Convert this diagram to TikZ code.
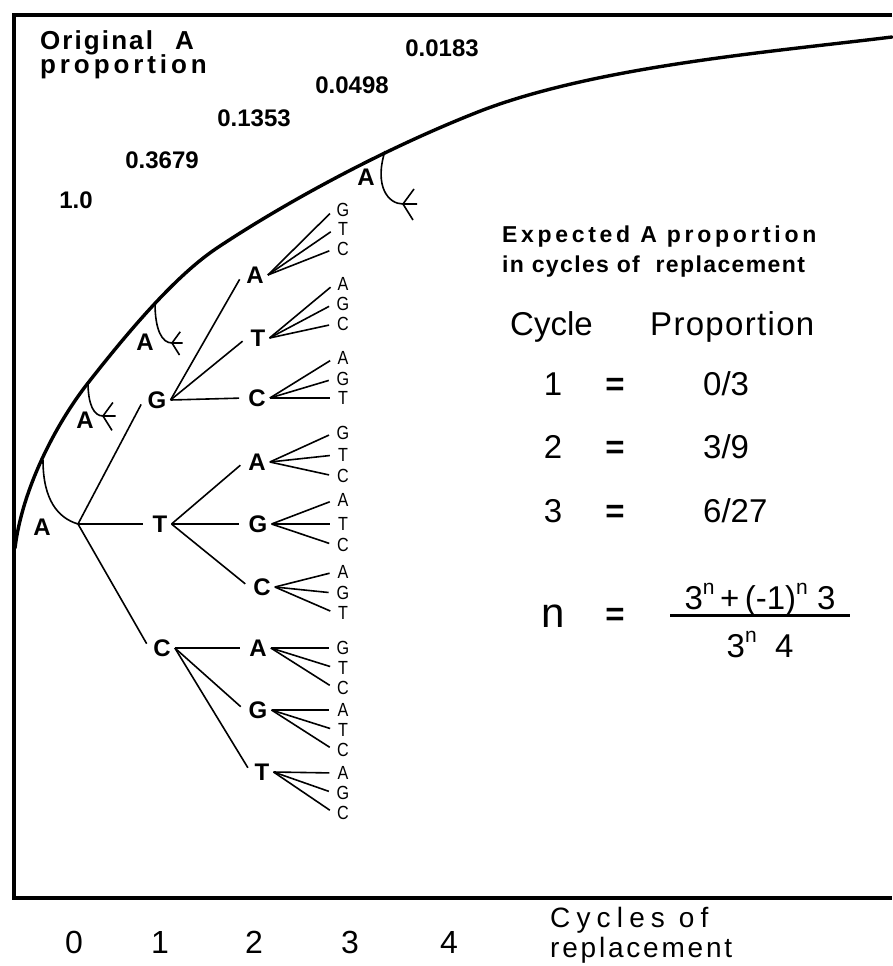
\documentclass[tikz,border=0pt]{standalone}
\usepackage{fontspec}
\setmainfont{Liberation Sans}
\newfontfamily\narrowfont[FakeStretch=0.85]{Liberation Sans}
\newcommand\trk[1]{\addfontfeatures{LetterSpace=#1}}
\newcommand\supn{\raisebox{0.45em}{\fontsize{21}{21}\selectfont n}}
\tikzset{
  frame/.style={line width=4pt},
  growth/.style={line width=3.4pt,line cap=round},
  branch/.style={line width=1.6pt,shorten >=5pt},
  hook/.style={line width=1.6pt},
  nuc/.style={font=\fontsize{24}{24}\selectfont\bfseries,inner xsep=4pt,inner ysep=0pt},
  leaf/.style={font=\narrowfont\fontsize{19}{19}\selectfont,inner xsep=3pt,inner ysep=0pt},
  val/.style={font=\fontsize{24}{24}\selectfont\bfseries,inner sep=0pt},
  tbl/.style={font=\fontsize{33}{33}\selectfont,inner sep=0pt,anchor=base},
  crowfoot/.pic={\draw[hook] (0,0) -- (11,-15) (0,0) -- (14,0) (0,0) -- (10,16);}
}

\begin{document}
\begin{tikzpicture}[x=1pt,y=-1pt]
\useasboundingbox (0,0) rectangle (892,966);
\fill[white] (0,0) rectangle (892,966);
\draw[frame] (892,15) -- (14,15) -- (14,898) -- (892,898);
\draw[growth] (15,548) .. controls (22,490) and (55,425) .. (88,383)
  .. controls (128,332) and (175,276) .. (217,248)
  .. controls (280,206) and (380,150) .. (483,110)
  .. controls (600,66) and (770,52) .. (892,37);

% proportions left along the curve
\node[anchor=base west,inner sep=0pt,font=\fontsize{26}{26}\selectfont\bfseries\trk{8}] (orig1) at (40,50) {Original\hspace{22pt}A};
\node[anchor=base west,inner sep=0pt,font=\fontsize{26}{26}\selectfont\bfseries\trk{15}] (orig2) at (40,74) {proportion};
\foreach \v/\x/\y in {1.0/76/200, 0.3679/162/160, 0.1353/254/118, 0.0498/352/85, 0.0183/442/48}
  \node[val] (v\x) at (\x,\y) {\v};

% replacement hooks on the curve
\coordinate (r0) at (78,524);
\draw[hook] (43,460) .. controls (43,500) and (58,518) .. (r0);
\draw[hook] (88,382) .. controls (88,405) and (94,416) .. (103,416) pic[scale=0.9] {crowfoot};
\draw[hook] (155,303) .. controls (155,330) and (162,343) .. (172,343) pic[scale=0.75] {crowfoot};
\draw[hook] (385,151) .. controls (374,186) and (388,204) .. (403,204) pic {crowfoot};
\node[nuc] (a0) at (42,527) {A};
\node[nuc] (a1) at (85,420) {A};
\node[nuc] (a2) at (145,342) {A};
\node[nuc] (a3) at (366,177) {A};

% tree of replacements
\foreach \n/\x/\y in {G/157/400, T/160/524, C/162/648}{
  \node[nuc] (\n) at (\x,\y) {\n};
  \draw[branch] (r0) -- (\n.west);
}
\foreach \p/\c/\x/\y in {G/A/255/275, G/T/258/338, G/C/257/398, T/A/257/462, T/G/258/524,
  T/C/262/587, C/A/258/648, C/G/258/710, C/T/262/772}{
  \node[nuc] (\p\c) at (\x,\y) {\c};
  \draw[branch] (\p.east) -- (\p\c.west);
}
\foreach \p/\l/\y in {GA/G/210, GA/T/229, GA/C/249, GT/A/284, GT/G/304, GT/C/324,
  GC/A/358, GC/G/379, GC/T/398, TA/G/433, TA/T/455, TA/C/476, TG/A/500, TG/T/524, TG/C/545,
  TC/A/572, TC/G/593, TC/T/613, CA/G/648, CA/T/668, CA/C/688, CG/A/710, CG/T/730, CG/C/750,
  CT/A/773, CT/G/793, CT/C/813}{
  \node[leaf] (\p\l) at (343,\y) {\l};
  \draw[branch] (\p.east) -- (\p\l.west);
}

% expected proportions
\node[anchor=base west,inner sep=0pt,font=\fontsize{23}{23}\selectfont\bfseries\trk{16}] (exp1) at (502,242) {Expected A proportion};
\node[anchor=base west,inner sep=0pt,font=\fontsize{23}{23}\selectfont\bfseries\trk{6}] (exp2) at (502,272) {in cycles of\hspace{8pt} replacement};
\node[tbl,anchor=base west] (hcyc) at (510,335) {Cycle};
\node[tbl,anchor=base west,font=\fontsize{33}{33}\selectfont\trk{4}] (hprop) at (650,335) {Proportion};
\foreach \c/\p/\y in {1/{0/3}/395, 2/{3/9}/458, 3/{6/27}/522}{
  \node[tbl] (c\c) at (553,\y) {\c};
  \node[tbl] (eq\c) at (615,\y) {\textbf{=}};
  \node[tbl,anchor=base west] (p\c) at (703,\y) {\p};
}
\node[tbl,font=\fontsize{42}{42}\selectfont] (cn) at (553,627) {n};
\node[tbl] (eqn) at (615,625) {\textbf{=}};
\node[tbl] (num) at (760,609) {3\supn\,+\,(-1)\supn\ 3};
\node[tbl] (den) at (760,657) {3\supn\ \ 4};
\draw[line width=3pt] (670,615) -- (850,615);

% axis
\foreach \i/\x in {0/74, 1/160, 2/254, 3/350, 4/449}
  \node[tbl,font=\fontsize{32}{32}\selectfont] (t\i) at (\x,953) {\i};
\node[anchor=base west,inner sep=0pt,font=\fontsize{28}{28}\selectfont\trk{22}] (cyc1) at (550,927) {Cycles of};
\node[anchor=base west,inner sep=0pt,font=\fontsize{28}{28}\selectfont\trk{10}] (cyc2) at (550,957) {replacement};
\end{tikzpicture}
\end{document}
